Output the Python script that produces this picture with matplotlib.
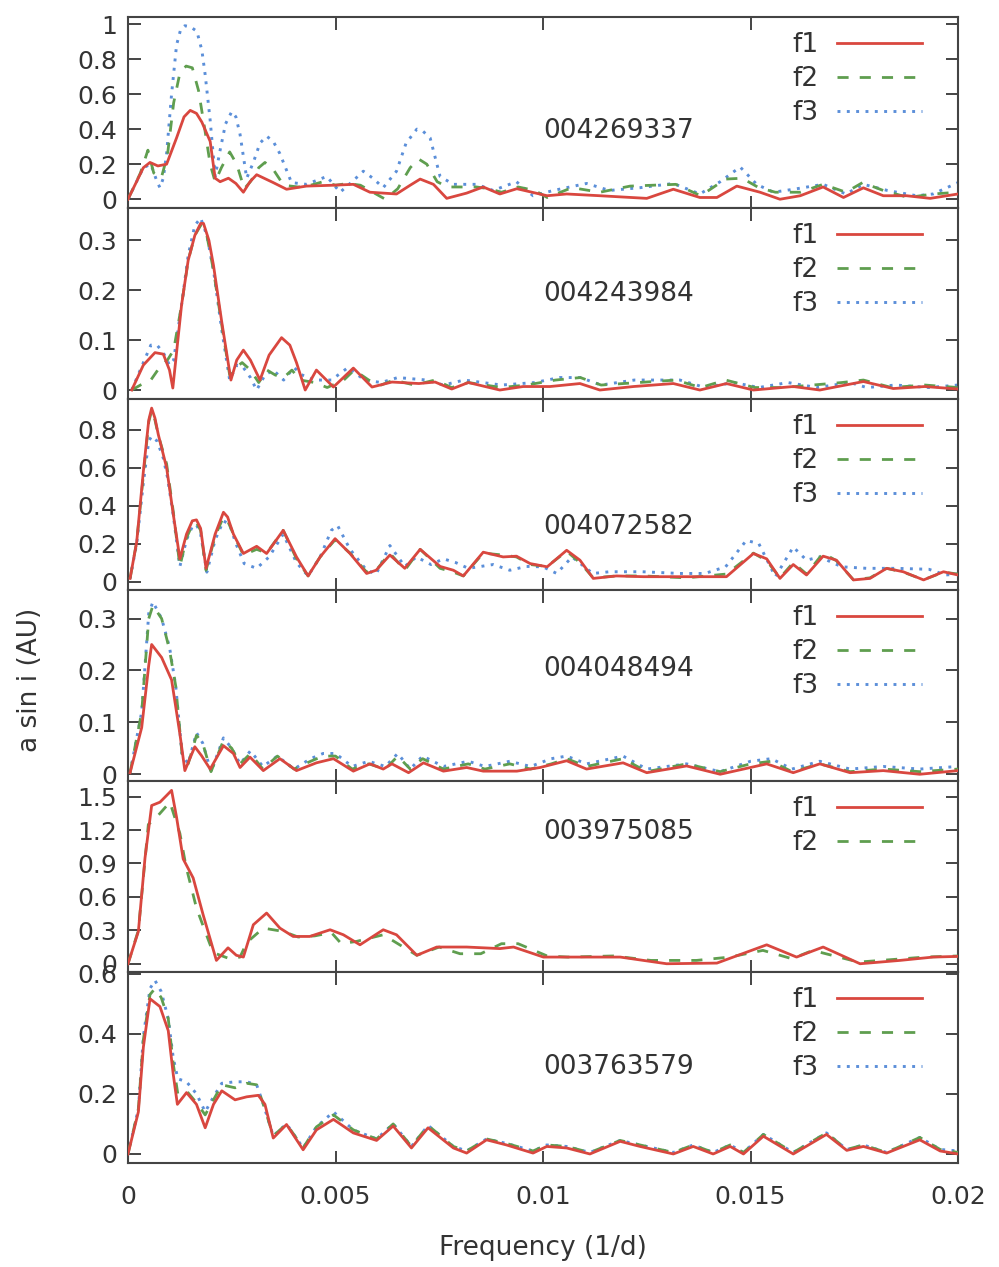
import numpy as np
import matplotlib
matplotlib.use("Agg")
import matplotlib.pyplot as plt
from matplotlib.ticker import FormatStrFormatter

# frequencies are written in units of 1e-3 (1/d), amplitudes in AU

# --- 004269337 ---
p1_f1_x = [0, 0.37, 0.53, 0.72, 0.93, 1.17, 1.35, 1.5, 1.65, 1.78, 1.98, 2.1, 2.22, 2.42, 2.6, 2.78, 2.94, 3.1,
           3.5, 3.82, 4.3, 4.95, 5.43, 5.83, 6.47, 6.8, 7.04, 7.36, 7.68, 8.16, 8.56, 8.96, 9.37, 10.1, 10.57,
           11.37, 12.5, 13.14, 13.78, 14.19, 14.67, 15.23, 15.71, 16.2, 16.75, 17.24, 17.72, 18.2, 18.76, 19.33, 20]
p1_f1_y = [0, 0.18, 0.21, 0.19, 0.2, 0.35, 0.47, 0.507, 0.49, 0.44, 0.33, 0.12, 0.1, 0.12, 0.09, 0.04, 0.1, 0.14,
           0.095, 0.057, 0.075, 0.08, 0.085, 0.04, 0.03, 0.08, 0.115, 0.085, 0.005, 0.035, 0.07, 0.03, 0.06, 0.02, 0.03,
           0.02, 0.005, 0.057, 0.01, 0.01, 0.075, 0.04, 0.0, 0.02, 0.07, 0.01, 0.065, 0.02, 0.02, 0.005, 0.03]
p1_f2_x = [0, 0.3, 0.48, 0.62, 0.8, 0.95, 1.1, 1.25, 1.4, 1.55, 1.7, 1.85, 1.98, 2.1, 2.25, 2.45, 2.62, 2.8, 2.95,
           3.15, 3.3, 3.5, 3.75, 4.1, 4.4, 4.7, 5.0, 5.3, 5.6, 5.9, 6.2, 6.5, 6.8, 7.0, 7.2, 7.45, 7.7, 8.0, 8.4,
           8.7, 9.0, 9.4, 9.8, 10.1, 10.7, 11.37, 12.1, 13.2, 13.8, 14.4, 14.8, 15.2, 15.6, 16.2, 16.75, 17.3,
           17.7, 18.2, 18.8, 19.4, 20]
p1_f2_y = [0, 0.15, 0.28, 0.15, 0.12, 0.25, 0.55, 0.72, 0.76, 0.75, 0.62, 0.4, 0.2, 0.1, 0.18, 0.27, 0.2, 0.06, 0.1,
           0.18, 0.21, 0.17, 0.08, 0.07, 0.08, 0.1, 0.08, 0.09, 0.08, 0.04, 0.0, 0.06, 0.18, 0.23, 0.2, 0.1, 0.07,
           0.07, 0.07, 0.06, 0.04, 0.07, 0.05, 0.01, 0.066, 0.04, 0.075, 0.085, 0.02, 0.115, 0.12, 0.066, 0.04,
           0.04, 0.085, 0.04, 0.095, 0.05, 0.01, 0.03, 0.04]
p1_f3_x = [0, 0.37, 0.55, 0.7, 0.77, 0.85, 0.93, 1.05, 1.17, 1.27, 1.37, 1.5, 1.66, 1.78, 1.86, 1.98, 2.1, 2.22,
           2.35, 2.5, 2.6, 2.7, 2.86, 3.02, 3.18, 3.34, 3.5, 3.66, 3.94, 4.3, 4.79, 5.11, 5.4, 5.67, 5.9, 6.15,
           6.47, 6.7, 6.96, 7.1, 7.28, 7.52, 7.84, 8.4, 8.8, 9.36, 9.76, 10.25, 11.05, 11.6, 12.34, 13.14, 13.78,
           14.27, 14.75, 15.15, 15.55, 16.04, 16.75, 17.3, 17.72, 18.3, 19.0, 19.4, 20]
p1_f3_y = [0, 0.18, 0.2, 0.1, 0.066, 0.12, 0.26, 0.6, 0.88, 0.97, 0.99, 0.985, 0.958, 0.85, 0.71, 0.45, 0.13, 0.28,
           0.43, 0.5, 0.47, 0.37, 0.12, 0.21, 0.32, 0.36, 0.33, 0.26, 0.095, 0.085, 0.13, 0.04, 0.1, 0.16, 0.12,
           0.066, 0.16, 0.32, 0.4, 0.39, 0.35, 0.13, 0.085, 0.085, 0.05, 0.1, 0.02, 0.05, 0.09, 0.05, 0.066, 0.09,
           0.03, 0.1, 0.184, 0.085, 0.04, 0.057, 0.085, 0.03, 0.085, 0.05, 0.02, 0.03, 0.095]

# --- 004243984 ---
p2_f1_x = [0.09, 0.37, 0.65, 0.85, 1.0, 1.08, 1.29, 1.45, 1.61, 1.75, 1.82, 1.95, 2.06, 2.26, 2.48, 2.62, 2.78,
           2.95, 3.18, 3.4, 3.7, 3.9, 4.06, 4.27, 4.54, 4.95, 5.43, 5.88, 6.36, 7.01, 7.4, 7.8, 8.2, 8.96, 9.52,
           10.17, 10.89, 11.37, 12.18, 13.14, 13.78, 14.42, 15.07, 16.03, 16.67, 17.72, 18.44, 19.2, 20]
p2_f1_y = [0, 0.05, 0.075, 0.072, 0.04, 0.004, 0.17, 0.26, 0.31, 0.334, 0.334, 0.3, 0.25, 0.136, 0.02, 0.06, 0.08,
           0.06, 0.02, 0.07, 0.105, 0.09, 0.055, 0.0, 0.04, 0.006, 0.044, 0.006, 0.016, 0.013, 0.016, 0.002, 0.015,
           0.0, 0.007, 0.007, 0.013, 0.0, 0.007, 0.013, 0.0, 0.013, 0.0, 0.007, 0.0, 0.017, 0.003, 0.007, 0.002]
p2_f2_x = [0.09, 0.3, 0.55, 0.8, 0.95, 1.1, 1.29, 1.45, 1.61, 1.75, 1.9, 2.06, 2.26, 2.45, 2.6, 2.75, 2.95, 3.15,
           3.35, 3.55, 3.75, 3.95, 4.15, 4.5, 4.8, 5.2, 5.45, 5.8, 6.1, 6.4, 6.9, 7.4, 7.8, 8.2, 9.0, 9.6, 10.3,
           10.9, 11.4, 12.3, 13.2, 13.8, 14.4, 15.1, 15.8, 16.5, 17.2, 17.72, 18.4, 19.2, 20]
p2_f2_y = [0, 0.01, 0.02, 0.05, 0.06, 0.08, 0.17, 0.26, 0.31, 0.33, 0.31, 0.24, 0.13, 0.03, 0.045, 0.055, 0.04,
           0.015, 0.04, 0.03, 0.025, 0.04, 0.02, 0.015, 0.005, 0.02, 0.04, 0.02, 0.01, 0.02, 0.01, 0.02, 0.005,
           0.015, 0.005, 0.01, 0.02, 0.025, 0.01, 0.015, 0.02, 0.005, 0.02, 0.005, 0.005, 0.01, 0.015, 0.02, 0.005,
           0.01, 0.005]
p2_f3_x = [0.09, 0.37, 0.55, 0.7, 0.85, 1.0, 1.1, 1.29, 1.45, 1.61, 1.75, 1.9, 2.06, 2.26, 2.45, 2.62, 2.78, 2.95,
           3.1, 3.3, 3.5, 3.75, 4.0, 4.2, 4.5, 4.9, 5.3, 5.7, 6.1, 6.5, 7.2, 7.6, 8.1, 9.0, 9.8, 10.4, 10.9, 11.4,
           12.2, 12.8, 13.3, 13.9, 14.6, 15.2, 15.9, 16.6, 17.4, 17.8, 18.5, 19.3, 20]
p2_f3_y = [0, 0.055, 0.09, 0.09, 0.075, 0.05, 0.06, 0.17, 0.27, 0.33, 0.345, 0.31, 0.24, 0.12, 0.02, 0.05, 0.045,
           0.025, 0.0, 0.03, 0.04, 0.02, 0.045, 0.03, 0.02, 0.02, 0.045, 0.02, 0.015, 0.025, 0.02, 0.01, 0.02,
           0.01, 0.015, 0.025, 0.025, 0.01, 0.02, 0.02, 0.02, 0.005, 0.015, 0.005, 0.015, 0.005, 0.015, 0.005,
           0.01, 0.005, 0.01]

# --- 004072582 ---
p3_f1_x = [0.05, 0.21, 0.37, 0.5, 0.57, 0.65, 0.73, 0.93, 1.09, 1.25, 1.41, 1.55, 1.65, 1.75, 1.88, 2.1, 2.3, 2.4,
           2.54, 2.78, 3.1, 3.34, 3.74, 4.06, 4.34, 4.63, 4.99, 5.35, 5.75, 5.98, 6.31, 6.67, 7.04, 7.52, 7.84,
           8.08, 8.56, 9.04, 9.36, 9.69, 10.1, 10.57, 10.89, 11.21, 11.77, 12.42, 13.46, 14.42, 15.07, 15.39,
           15.71, 16.03, 16.35, 16.75, 17.07, 17.48, 17.88, 18.28, 18.68, 19.17, 19.65, 20]
p3_f1_y = [0.017, 0.21, 0.58, 0.85, 0.913, 0.86, 0.774, 0.6, 0.356, 0.12, 0.25, 0.32, 0.325, 0.28, 0.07, 0.25,
           0.365, 0.34, 0.25, 0.148, 0.186, 0.148, 0.27, 0.13, 0.03, 0.13, 0.226, 0.148, 0.043, 0.06, 0.14, 0.07,
           0.17, 0.08, 0.06, 0.03, 0.155, 0.13, 0.134, 0.095, 0.078, 0.165, 0.113, 0.017, 0.03, 0.026, 0.026,
           0.026, 0.148, 0.12, 0.017, 0.09, 0.035, 0.134, 0.113, 0.009, 0.017, 0.07, 0.052, 0.009, 0.052, 0.035]
p3_f2_x = p3_f1_x
p3_f2_y = [0.017, 0.21, 0.56, 0.84, 0.9, 0.85, 0.77, 0.62, 0.37, 0.08, 0.23, 0.3, 0.31, 0.27, 0.06, 0.24, 0.34,
           0.32, 0.25, 0.14, 0.17, 0.15, 0.27, 0.12, 0.03, 0.13, 0.22, 0.15, 0.05, 0.06, 0.15, 0.06, 0.17, 0.07,
           0.05, 0.03, 0.15, 0.14, 0.13, 0.09, 0.08, 0.16, 0.1, 0.02, 0.03, 0.03, 0.02, 0.04, 0.15, 0.11, 0.02,
           0.1, 0.04, 0.15, 0.11, 0.01, 0.02, 0.07, 0.05, 0.01, 0.05, 0.04]
p3_f3_x = [0.05, 0.21, 0.37, 0.5, 0.57, 0.7, 0.85, 0.95, 1.09, 1.25, 1.41, 1.55, 1.65, 1.75, 1.9, 2.1, 2.3, 2.45,
           2.6, 2.8, 3.1, 3.4, 3.74, 4.06, 4.34, 4.63, 4.9, 5.05, 5.35, 5.75, 5.98, 6.31, 6.67, 6.95, 7.3, 7.6,
           7.9, 8.2, 8.8, 9.2, 9.6, 10.0, 10.33, 10.7, 11.2, 11.6, 12.4, 13.3, 13.9, 14.4, 14.9, 15.2, 15.6,
           16.03, 16.35, 16.67, 17.2, 17.8, 18.5, 19.3, 19.7, 20]
p3_f3_y = [0.017, 0.2, 0.52, 0.74, 0.765, 0.74, 0.65, 0.55, 0.35, 0.08, 0.22, 0.29, 0.3, 0.25, 0.05, 0.22, 0.32,
           0.3, 0.2, 0.095, 0.07, 0.13, 0.25, 0.1, 0.03, 0.13, 0.27, 0.295, 0.17, 0.06, 0.04, 0.19, 0.08, 0.13,
           0.09, 0.12, 0.1, 0.07, 0.09, 0.06, 0.08, 0.078, 0.043, 0.13, 0.043, 0.052, 0.052, 0.043, 0.043, 0.078,
           0.217, 0.2, 0.026, 0.182, 0.113, 0.13, 0.078, 0.07, 0.07, 0.065, 0.035, 0.04]

# --- 004048494 ---
p4_f1_x = [0.05, 0.33, 0.5, 0.57, 0.81, 1.05, 1.25, 1.37, 1.61, 1.77, 1.98, 2.3, 2.54, 2.7, 2.94, 3.26, 3.66,
           4.06, 4.54, 4.95, 5.43, 5.83, 6.15, 6.36, 6.76, 7.12, 7.6, 8.16, 8.56, 9.37, 9.93, 10.57, 11.05, 11.93,
           12.5, 13.46, 14.27, 15.39, 16.03, 16.67, 17.4, 18.2, 19.08, 20]
p4_f1_y = [0.003, 0.09, 0.21, 0.25, 0.225, 0.182, 0.078, 0.007, 0.053, 0.036, 0.01, 0.055, 0.04, 0.013, 0.033,
           0.007, 0.03, 0.007, 0.022, 0.03, 0.006, 0.02, 0.01, 0.02, 0.003, 0.022, 0.006, 0.013, 0.006, 0.006,
           0.013, 0.026, 0.01, 0.022, 0.003, 0.016, 0.0, 0.02, 0.003, 0.02, 0.003, 0.007, 0.0, 0.007]
p4_f2_x = [0.05, 0.33, 0.5, 0.6, 0.81, 1.0, 1.15, 1.3, 1.45, 1.65, 1.8, 2.0, 2.3, 2.5, 2.7, 2.95, 3.25, 3.6, 4.0,
           4.4, 4.7, 5.0, 5.4, 5.8, 6.2, 6.5, 6.8, 7.1, 7.6, 8.2, 8.6, 9.2, 9.7, 10.2, 10.57, 11.05, 11.93, 12.5,
           13.46, 14.27, 15.0, 15.5, 16.0, 16.67, 17.4, 18.2, 19.08, 20]
p4_f2_y = [0.003, 0.12, 0.3, 0.325, 0.3, 0.24, 0.17, 0.04, 0.02, 0.075, 0.06, 0.005, 0.065, 0.05, 0.02, 0.04,
           0.01, 0.035, 0.01, 0.025, 0.035, 0.035, 0.01, 0.02, 0.01, 0.035, 0.01, 0.03, 0.01, 0.02, 0.01, 0.02,
           0.01, 0.02, 0.03, 0.015, 0.03, 0.005, 0.02, 0.005, 0.02, 0.025, 0.005, 0.02, 0.005, 0.01, 0.005, 0.01]
p4_f3_x = p4_f2_x
p4_f3_y = [0.003, 0.12, 0.31, 0.332, 0.3, 0.245, 0.17, 0.04, 0.02, 0.08, 0.06, 0.005, 0.07, 0.05, 0.02, 0.045,
           0.015, 0.035, 0.01, 0.03, 0.04, 0.04, 0.015, 0.025, 0.015, 0.04, 0.01, 0.035, 0.015, 0.025, 0.015,
           0.025, 0.015, 0.03, 0.035, 0.02, 0.035, 0.01, 0.02, 0.005, 0.025, 0.03, 0.01, 0.025, 0.01, 0.015, 0.01,
           0.015]

# --- 003975085 ---
p5_f1_x = [0.0, 0.25, 0.41, 0.57, 0.77, 0.93, 1.05, 1.17, 1.33, 1.57, 1.81, 2.13, 2.41, 2.61, 2.78, 3.02, 3.34,
           3.66, 3.98, 4.38, 4.87, 5.19, 5.59, 6.15, 6.47, 6.96, 7.44, 8.16, 8.96, 9.29, 10.01, 11.21, 11.86,
           12.98, 14.19, 15.39, 16.11, 16.75, 17.64, 18.6, 19.4, 20]
p5_f1_y = [0.0, 0.29, 0.95, 1.42, 1.45, 1.51, 1.556, 1.315, 0.94, 0.77, 0.44, 0.03, 0.143, 0.076, 0.06, 0.35,
           0.455, 0.32, 0.245, 0.245, 0.305, 0.26, 0.17, 0.305, 0.26, 0.076, 0.15, 0.15, 0.136, 0.15, 0.06, 0.06,
           0.06, 0.0, 0.006, 0.17, 0.06, 0.15, 0.0, 0.03, 0.06, 0.066]
p5_f2_x = [0.0, 0.25, 0.49, 0.7, 1.01, 1.25, 1.4, 1.65, 2.05, 2.45, 2.7, 2.86, 3.26, 3.74, 4.1, 4.5, 4.9, 5.14,
           5.5, 6.15, 6.96, 7.5, 8.0, 8.5, 9.0, 9.4, 10.1, 10.6, 11.7, 12.6, 13.25, 13.7, 14.5, 15.3, 16.0, 16.5,
           17.6, 18.5, 19.2, 20]
p5_f2_y = [0.0, 0.3, 1.25, 1.32, 1.45, 1.17, 0.87, 0.5, 0.1, 0.045, 0.06, 0.19, 0.32, 0.29, 0.24, 0.25, 0.28,
           0.18, 0.2, 0.26, 0.076, 0.15, 0.09, 0.09, 0.18, 0.18, 0.07, 0.06, 0.07, 0.03, 0.03, 0.03, 0.06, 0.12,
           0.045, 0.12, 0.015, 0.04, 0.06, 0.07]

# --- 003763579 ---
p6_f1_x = [0.0, 0.25, 0.37, 0.53, 0.77, 0.97, 1.09, 1.19, 1.41, 1.65, 1.86, 2.06, 2.26, 2.58, 2.86, 3.14, 3.3,
           3.5, 3.82, 4.22, 4.54, 4.95, 5.43, 5.99, 6.39, 6.83, 7.23, 7.84, 8.16, 8.64, 9.12, 9.76, 10.09, 10.57,
           11.13, 11.86, 12.34, 13.14, 13.62, 14.1, 14.51, 14.83, 15.31, 16.03, 16.83, 17.32, 17.72, 18.28,
           19.08, 19.57, 20]
p6_f1_y = [0.0, 0.14, 0.355, 0.516, 0.49, 0.41, 0.265, 0.165, 0.204, 0.165, 0.087, 0.165, 0.21, 0.18, 0.19,
           0.195, 0.165, 0.053, 0.098, 0.014, 0.08, 0.115, 0.07, 0.045, 0.093, 0.02, 0.087, 0.02, 0.003, 0.047,
           0.03, 0.003, 0.025, 0.02, 0.0, 0.042, 0.025, 0.0, 0.025, 0.0, 0.025, 0.0, 0.059, 0.0, 0.065, 0.012,
           0.025, 0.003, 0.047, 0.01, 0.0]
p6_f2_x = [0.0, 0.25, 0.37, 0.53, 0.65, 0.8, 0.97, 1.09, 1.2, 1.41, 1.65, 1.86, 2.06, 2.26, 2.58, 2.86, 3.1,
           3.25, 3.5, 3.82, 4.22, 4.54, 4.95, 5.43, 5.99, 6.39, 6.83, 7.23, 7.84, 8.16, 8.64, 9.12, 9.76, 10.09,
           10.57, 11.13, 11.86, 12.34, 13.14, 13.62, 14.1, 14.51, 14.83, 15.31, 16.03, 16.83, 17.32, 17.72,
           18.28, 19.08, 19.57, 20]
p6_f2_y = [0.0, 0.15, 0.38, 0.53, 0.55, 0.52, 0.45, 0.3, 0.2, 0.21, 0.17, 0.13, 0.18, 0.23, 0.22, 0.235, 0.23,
           0.17, 0.06, 0.1, 0.02, 0.09, 0.13, 0.08, 0.05, 0.1, 0.025, 0.095, 0.025, 0.01, 0.05, 0.035, 0.01, 0.03,
           0.025, 0.005, 0.045, 0.03, 0.005, 0.03, 0.005, 0.03, 0.005, 0.065, 0.005, 0.07, 0.015, 0.03, 0.005,
           0.055, 0.015, 0.005]
p6_f3_x = p6_f2_x
p6_f3_y = [0.0, 0.15, 0.39, 0.55, 0.577, 0.54, 0.45, 0.32, 0.25, 0.24, 0.2, 0.14, 0.19, 0.235, 0.24, 0.24, 0.23,
           0.17, 0.06, 0.1, 0.02, 0.09, 0.14, 0.08, 0.05, 0.1, 0.025, 0.095, 0.025, 0.01, 0.05, 0.035, 0.01, 0.03,
           0.025, 0.005, 0.045, 0.03, 0.005, 0.03, 0.005, 0.03, 0.005, 0.065, 0.005, 0.07, 0.015, 0.03, 0.005,
           0.055, 0.015, 0.01]

star_ids = ["004269337", "004243984", "004072582", "004048494", "003975085", "003763579"]
panel_curves = [
    [(p1_f1_x, p1_f1_y), (p1_f2_x, p1_f2_y), (p1_f3_x, p1_f3_y)],
    [(p2_f1_x, p2_f1_y), (p2_f2_x, p2_f2_y), (p2_f3_x, p2_f3_y)],
    [(p3_f1_x, p3_f1_y), (p3_f2_x, p3_f2_y), (p3_f3_x, p3_f3_y)],
    [(p4_f1_x, p4_f1_y), (p4_f2_x, p4_f2_y), (p4_f3_x, p4_f3_y)],
    [(p5_f1_x, p5_f1_y), (p5_f2_x, p5_f2_y)],
    [(p6_f1_x, p6_f1_y), (p6_f2_x, p6_f2_y), (p6_f3_x, p6_f3_y)],
]
y_ticks = [
    [0, 0.2, 0.4, 0.6, 0.8, 1.0],
    [0, 0.1, 0.2, 0.3],
    [0, 0.2, 0.4, 0.6, 0.8],
    [0, 0.1, 0.2, 0.3],
    [0, 0.3, 0.6, 0.9, 1.2, 1.5],
    [0, 0.2, 0.4, 0.6],
]
y_limits = [(-0.05, 1.04), (-0.018, 0.365), (-0.044, 0.961), (-0.013, 0.355), (-0.074, 1.64), (-0.03, 0.605)]
label_ypos = [0.405, 0.55, 0.33, 0.587, 0.734, 0.505]
x_ticks = [0, 0.005, 0.01, 0.015, 0.02]
series_names = ["f1", "f2", "f3"]

TEXT = "#333333"
AXC = "#444444"
styles = [
    dict(color="#d9473f", lw=2.0, ls="-", zorder=4),
    dict(color="#5f9e4f", lw=2.0, ls=(0, (4, 4)), zorder=3),
    dict(color="#5b8fd9", lw=2.1, ls=(0, (1, 2.2)), zorder=2),
]

fig = plt.figure(figsize=(9.99, 12.67), dpi=100)
gs = fig.add_gridspec(6, 1, left=128/999, right=958/999, top=1-17/1267, bottom=1-1163/1267, hspace=0)

for k in range(6):
    ax = fig.add_subplot(gs[k])
    for j, (xs, ys) in enumerate(panel_curves[k]):
        ax.plot(np.array(xs) * 1e-3, ys, label=series_names[j], **styles[j])
    ax.set_xlim(0, 0.02)
    ax.set_ylim(*y_limits[k])
    ax.set_yticks(y_ticks[k])
    ax.set_xticks(x_ticks)
    ax.yaxis.set_major_formatter(FormatStrFormatter("%g"))
    ax.xaxis.set_major_formatter(FormatStrFormatter("%g"))
    ax.tick_params(direction="in", length=9, width=1.4, color=AXC, labelsize=18, labelcolor=TEXT,
                   top=True, right=True, pad=8)
    ax.tick_params(axis="x", pad=16)
    if k < 5:
        ax.tick_params(labelbottom=False)
    for s in ax.spines.values():
        s.set_color(AXC)
        s.set_linewidth(1.5)
    # star id: x in data units, y as a fraction of the panel height
    ax.text(0.01, label_ypos[k], star_ids[k], transform=ax.get_xaxis_transform(),
            ha="left", va="center", fontsize=19, color=TEXT)
    ax.legend(loc="upper right", bbox_to_anchor=(0.969, 0.976), borderaxespad=0, frameon=False,
              markerfirst=False, fontsize=19, handlelength=3.2, handletextpad=0.7, labelspacing=0.3,
              labelcolor=TEXT)

fig.text(543/999, 1-1248/1267, "Frequency (1/d)", ha="center", va="center", fontsize=19, color=TEXT)
fig.text(30/999, 1-680/1267, "a sin i (AU)", ha="center", va="center", rotation=90, fontsize=19, color=TEXT)

fig.savefig("out.png", dpi=100)
